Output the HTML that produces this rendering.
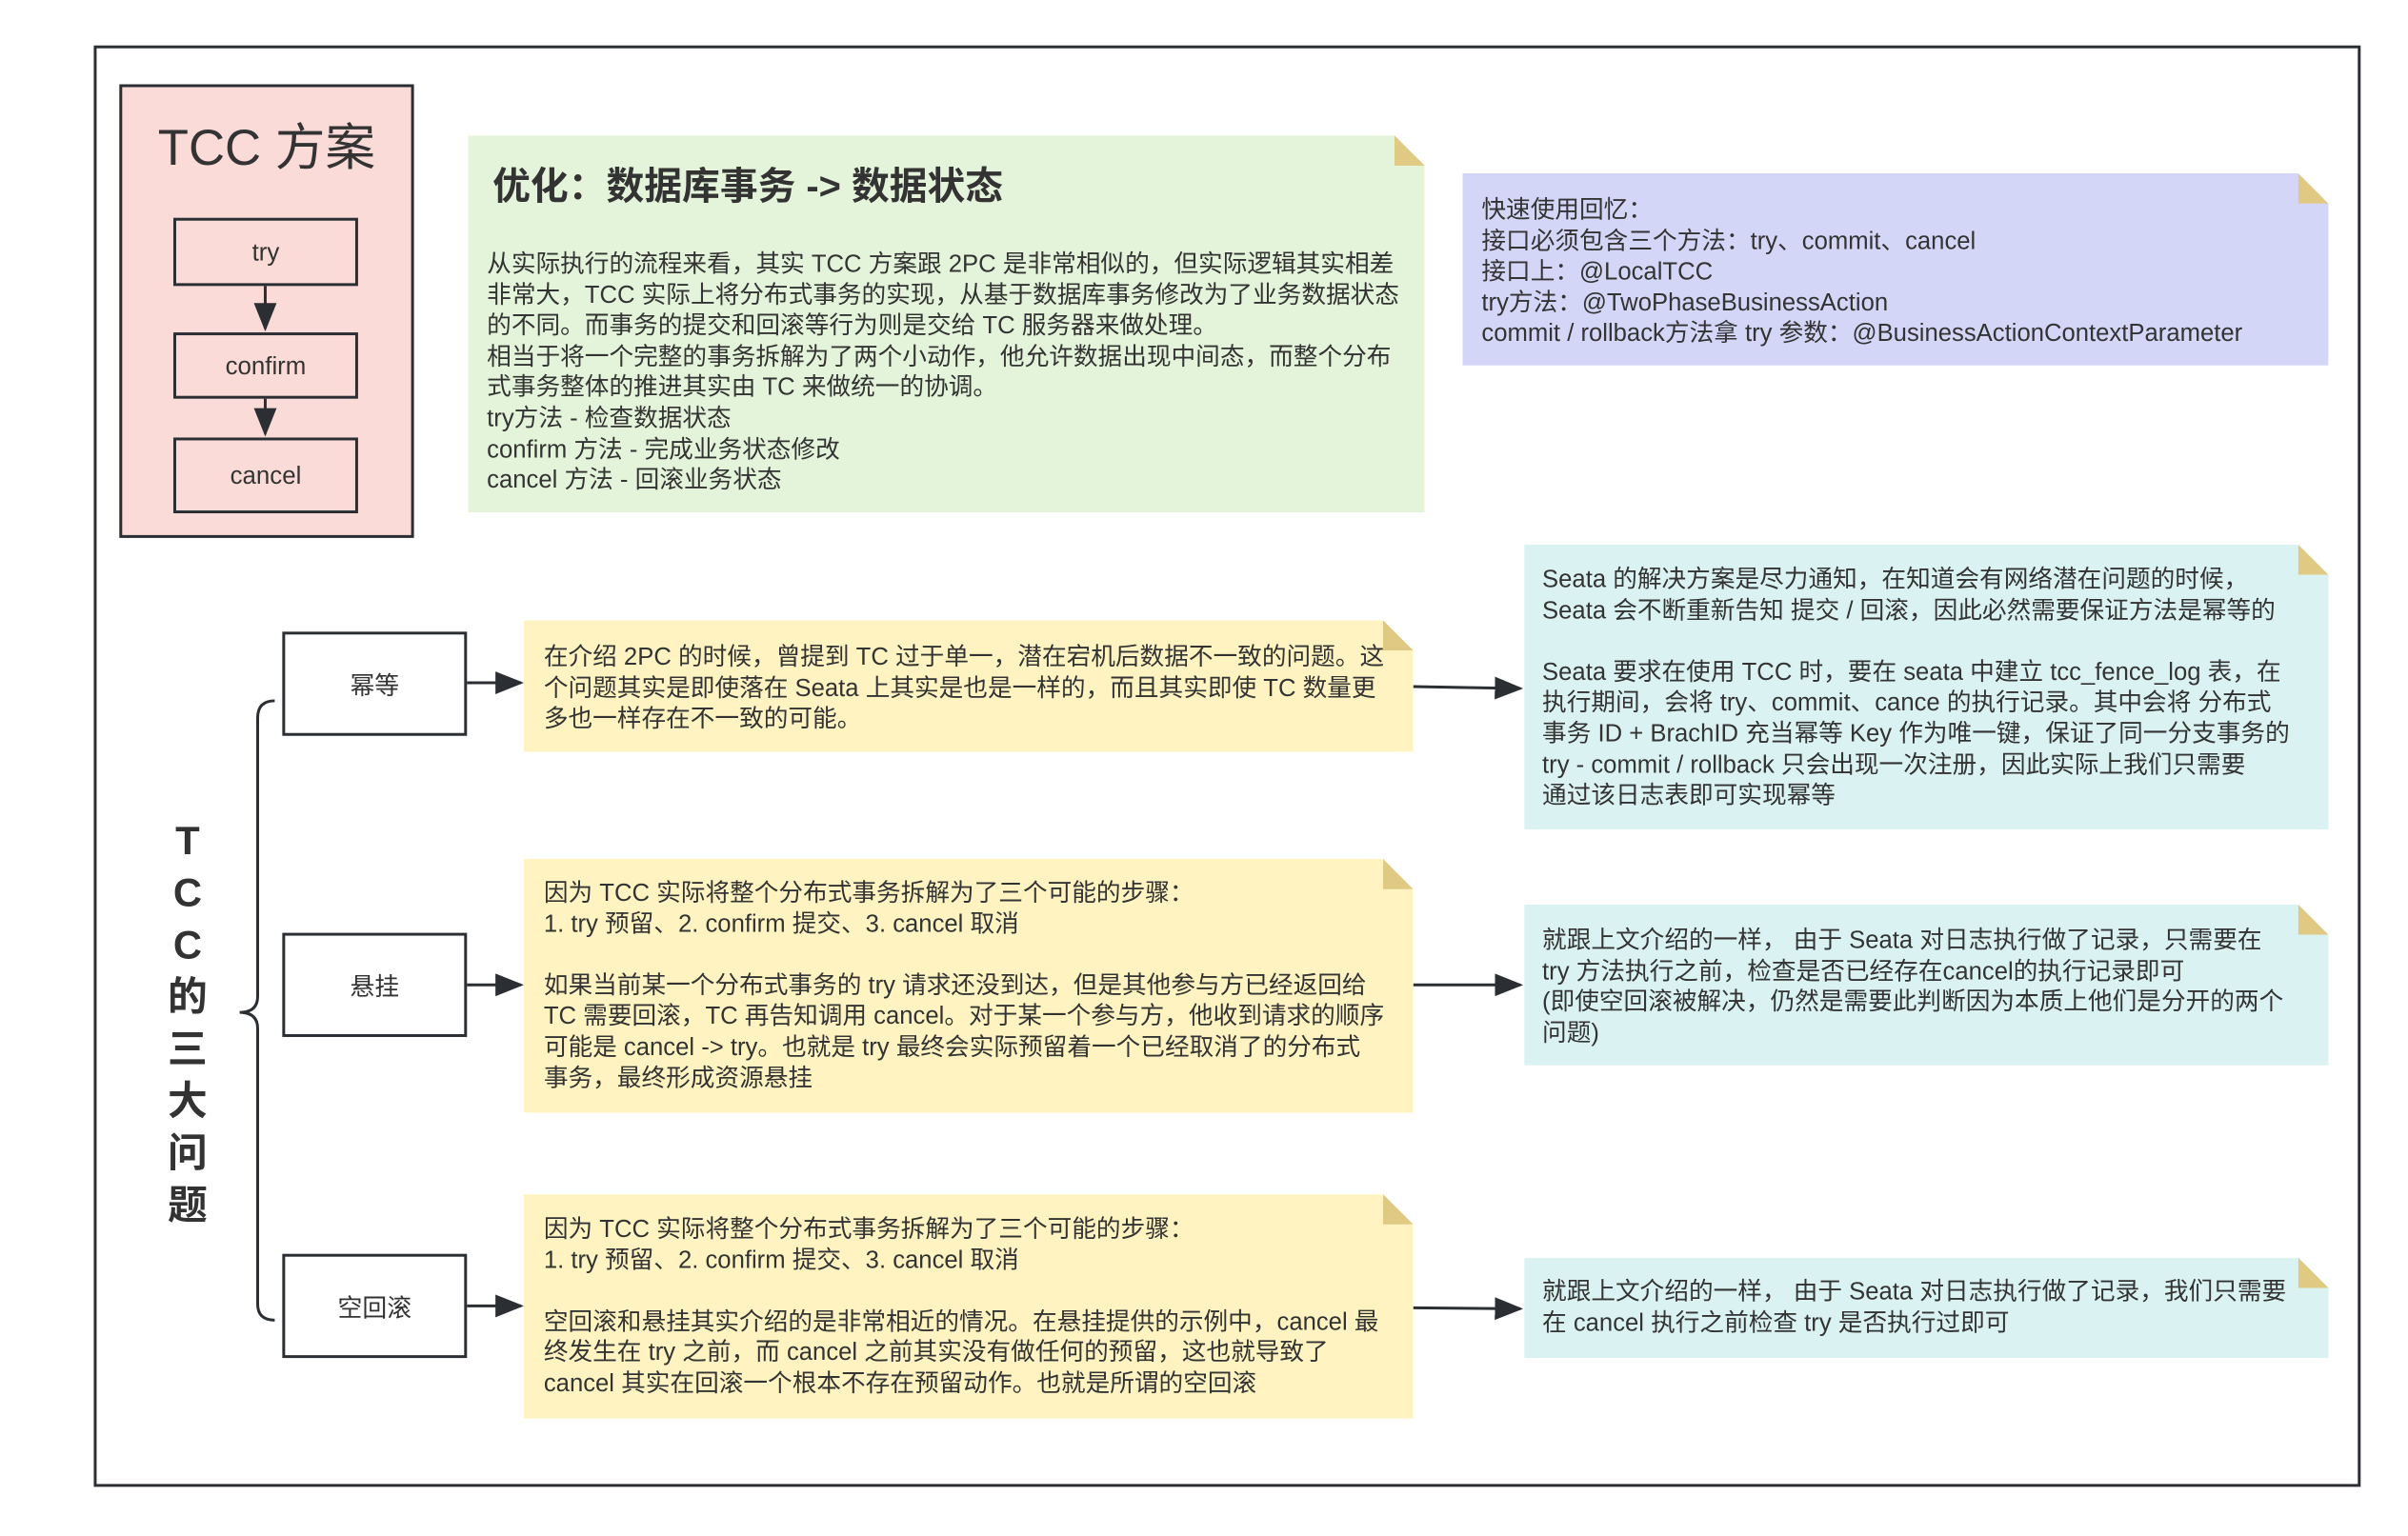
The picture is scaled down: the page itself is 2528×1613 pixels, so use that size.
<!DOCTYPE html>
<html><head><meta charset="utf-8"><style>
html,body{margin:0;padding:0;background:#fff;}
body{width:2528px;height:1613px;position:relative;overflow:hidden;font-family:"Liberation Sans","Noto Sans CJK SC",sans-serif;color:#333;}
#w{position:absolute;left:0;top:0;width:2528px;height:1613px;transform:scale(0.9945);transform-origin:0 0;}
.a{position:absolute;box-sizing:border-box;}
.box{border:3px solid #2b2f33;display:flex;align-items:center;justify-content:center;font-size:26px;color:#333;}
.note{clip-path:polygon(0 0,calc(100% - 32px) 0,100% 32px,100% 100%,0 100%);}
.fold{position:absolute;width:32px;height:32px;background:#dfc983;clip-path:polygon(0 0,0 100%,100% 100%);}
.t{position:absolute;font-size:25.8px;line-height:32.6px;white-space:nowrap;color:#333;}
</style></head><body><div id="w">
<div class="a" style="left:99px;top:48px;width:2393px;height:1522px;border:3px solid #2b2f33;"></div>

<div class="a" style="left:126px;top:89px;width:311px;height:479px;background:#fadbd8;border:3px solid #2b2f33;"></div>
<div class="a" style="left:126px;top:122px;width:311px;text-align:center;font-size:53px;line-height:70px;color:#333;">TCC 方案</div>
<div class="a box" style="left:183px;top:230px;width:195px;height:72px;">try</div>
<div class="a box" style="left:183px;top:351px;width:195px;height:70px;">confirm</div>
<div class="a box" style="left:183px;top:462px;width:195px;height:80px;">cancel</div>

<div class="a note" style="left:494px;top:143px;width:1010px;height:398px;background:#e4f4da;"></div>
<div class="fold" style="left:1472px;top:143px;"></div>
<div class="t" style="left:520px;top:174px;font-size:40px;line-height:46px;font-weight:bold;">优化：数据库事务 -&gt; 数据状态</div>
<div class="t" style="left:514px;top:263px;">从实际执行的流程来看，其实 TCC 方案跟 2PC 是非常相似的，但实际逻辑其实相差<br>非常大，TCC 实际上将分布式事务的实现，从基于数据库事务修改为了业务数据状态<br>的不同。而事务的提交和回滚等行为则是交给 TC 服务器来做处理。<br>相当于将一个完整的事务拆解为了两个小动作，他允许数据出现中间态，而整个分布<br>式事务整体的推进其实由 TC 来做统一的协调。<br>try方法 - 检查数据状态<br>confirm 方法 - 完成业务状态修改<br>cancel 方法 - 回滚业务状态</div>

<div class="a note" style="left:1544px;top:183px;width:914px;height:203px;background:#d4d6f7;"></div>
<div class="fold" style="left:2426px;top:183px;"></div>
<div class="t" style="left:1564px;top:206px;">快速使用回忆：<br>接口必须包含三个方法：try、commit、cancel<br>接口上：@LocalTCC<br>try方法：@TwoPhaseBusinessAction<br>commit / rollback方法拿 try 参数：@BusinessActionContextParameter</div>

<div class="a" style="left:170px;top:860px;width:56px;text-align:center;font-size:42px;line-height:55px;font-weight:bold;color:#333;">T<br>C<br>C<br>的<br>三<br>大<br>问<br>题</div>

<div class="a box" style="left:298px;top:667px;width:195px;height:110px;">幂等</div>
<div class="a box" style="left:298px;top:985px;width:195px;height:110px;">悬挂</div>
<div class="a box" style="left:298px;top:1324px;width:195px;height:110px;">空回滚</div>

<div class="a note" style="left:553px;top:655px;width:939px;height:139px;background:#fff4c1;"></div>
<div class="fold" style="left:1460px;top:655px;"></div>
<div class="t" style="left:574px;top:678px;">在介绍 2PC 的时候，曾提到 TC 过于单一，潜在宕机后数据不一致的问题。这<br>个问题其实是即使落在 Seata 上其实是也是一样的，而且其实即使 TC 数量更<br>多也一样存在不一致的可能。</div>

<div class="a note" style="left:553px;top:907px;width:939px;height:268px;background:#fff4c1;"></div>
<div class="fold" style="left:1460px;top:907px;"></div>
<div class="t" style="left:574px;top:927px;">因为 TCC 实际将整个分布式事务拆解为了三个可能的步骤：<br>1. try 预留、2. confirm 提交、3. cancel 取消<br>&nbsp;<br>如果当前某一个分布式事务的 try 请求还没到达，但是其他参与方已经返回给<br>TC 需要回滚，TC 再告知调用 cancel。对于某一个参与方，他收到请求的顺序<br>可能是 cancel -&gt; try。也就是 try 最终会实际预留着一个已经取消了的分布式<br>事务，最终形成资源悬挂</div>

<div class="a note" style="left:553px;top:1261px;width:939px;height:237px;background:#fff4c1;"></div>
<div class="fold" style="left:1460px;top:1261px;"></div>
<div class="t" style="left:574px;top:1282px;">因为 TCC 实际将整个分布式事务拆解为了三个可能的步骤：<br>1. try 预留、2. confirm 提交、3. cancel 取消<br>&nbsp;<br>空回滚和悬挂其实介绍的是非常相近的情况。在悬挂提供的示例中，cancel 最<br>终发生在 try 之前，而 cancel 之前其实没有做任何的预留，这也就导致了<br>cancel 其实在回滚一个根本不存在预留动作。也就是所谓的空回滚</div>

<div class="a note" style="left:1609px;top:575px;width:849px;height:301px;background:#daf3f2;"></div>
<div class="fold" style="left:2426px;top:575px;"></div>
<div class="t" style="left:1628px;top:596px;">Seata 的解决方案是尽力通知，在知道会有网络潜在问题的时候，<br>Seata 会不断重新告知 提交 / 回滚，因此必然需要保证方法是幂等的<br>&nbsp;<br>Seata 要求在使用 TCC 时，要在 seata 中建立 tcc_fence_log 表，在<br>执行期间，会将 try、commit、cance 的执行记录。其中会将 分布式<br>事务 ID + BrachID 充当幂等 Key 作为唯一键，保证了同一分支事务的<br>try - commit / rollback 只会出现一次注册，因此实际上我们只需要<br>通过该日志表即可实现幂等</div>

<div class="a note" style="left:1609px;top:955px;width:849px;height:170px;background:#daf3f2;"></div>
<div class="fold" style="left:2426px;top:955px;"></div>
<div class="t" style="left:1628px;top:977px;">就跟上文介绍的一样， 由于 Seata 对日志执行做了记录，只需要在<br>try 方法执行之前，检查是否已经存在cancel的执行记录即可<br>(即使空回滚被解决，仍然是需要此判断因为本质上他们是分开的两个<br>问题)</div>

<div class="a note" style="left:1609px;top:1328px;width:849px;height:106px;background:#daf3f2;"></div>
<div class="fold" style="left:2426px;top:1328px;"></div>
<div class="t" style="left:1628px;top:1348px;">就跟上文介绍的一样， 由于 Seata 对日志执行做了记录，我们只需要<br>在 cancel 执行之前检查 try 是否执行过即可</div>

<svg class="a" style="left:0;top:0" width="2528" height="1613" viewBox="0 0 2528 1613">
<defs><marker id="m" markerWidth="10" markerHeight="8" refX="9" refY="4" orient="auto" markerUnits="strokeWidth"><path d="M0,0 L10,4 L0,8 z" fill="#2b2f33"/></marker></defs>
<g stroke="#2b2f33" stroke-width="3" fill="none">
<line x1="280" y1="302" x2="280" y2="347" marker-end="url(#m)"/>
<line x1="280" y1="421" x2="280" y2="458" marker-end="url(#m)"/>
<line x1="493" y1="721" x2="550" y2="721" marker-end="url(#m)"/>
<line x1="493" y1="1040" x2="550" y2="1040" marker-end="url(#m)"/>
<line x1="493" y1="1379" x2="550" y2="1379" marker-end="url(#m)"/>
<line x1="1492" y1="725" x2="1605" y2="727" marker-end="url(#m)"/>
<line x1="1492" y1="1040" x2="1605" y2="1040" marker-end="url(#m)"/>
<line x1="1492" y1="1381" x2="1605" y2="1382" marker-end="url(#m)"/>
<path d="M290,740 Q272,740 272,758 L272,1052 Q272,1069 253,1069 Q272,1069 272,1086 L272,1377 Q272,1394 290,1394"/>
</g>
</svg>
</div></body></html>
